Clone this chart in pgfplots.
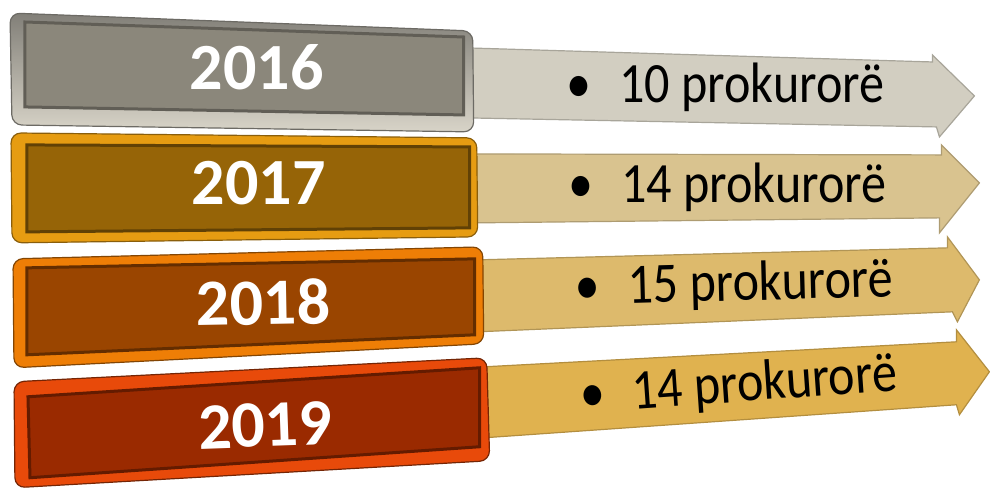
\documentclass[border=0pt]{standalone}
\usepackage{fontspec}
\setmainfont{Carlito}
\usepackage{pgfplots}
\usepackage{pgfplotstable}
\pgfplotsset{compat=1.18}

% fills
\definecolor{arrA}{HTML}{D2CEC1}
\definecolor{arrB}{HTML}{D9C38F}
\definecolor{arrC}{HTML}{DDBA6C}
\definecolor{arrD}{HTML}{E0B24F}
\definecolor{boxA}{HTML}{8B877B}
\definecolor{boxB}{HTML}{966407}
\definecolor{boxC}{HTML}{9A4500}
\definecolor{boxD}{HTML}{9A2A00}
\definecolor{rimA}{HTML}{D8D4C8}
\definecolor{rimB}{HTML}{E69C12}
\definecolor{rimC}{HTML}{EE7E06}
\definecolor{rimD}{HTML}{E84A0A}

% year labels (pixel positions, baseline)
\pgfplotstableread{
x   y   rot label
257 90  0   2016
259 205 0   2017
264 325 1   2018
266 447 2   2019
}\years

% count labels
\pgfplotstableread{
x   y   rot n
726 103 0   10
728 203 0   14
735 301 1.5 15
740 402 4   14
}\counts

\begin{document}
\begin{tikzpicture}
\begin{axis}[
  width=495pt, height=244pt, scale only axis,
  xmin=0, xmax=990, ymin=0, ymax=488,
  y dir=reverse,
  hide axis,
  clip=false,
]
\addplot[draw=none] coordinates {(0,0) (990,488)};

% arrows
\addplot[fill=arrA, draw=arrA!80!black, line width=0.6pt] coordinates {
  (470,48) (933,62) (933,55) (975,96) (940,137) (937,127) (470,118)} --cycle;
\addplot[fill=arrB, draw=arrB!80!black, line width=0.6pt] coordinates {
  (475,154) (942,155) (942,145) (980,183) (940,233) (940,218) (475,223)} --cycle;
\addplot[fill=arrC, draw=arrC!80!black, line width=0.6pt] coordinates {
  (478,260) (948,248) (948,237) (980,280) (958,322) (953,312) (478,332)} --cycle;
\addplot[fill=arrD, draw=arrD!80!black, line width=0.6pt] coordinates {
  (485,367) (957,342) (957,330) (990,372) (960,415) (957,405) (485,438)} --cycle;

% boxes: rim then face
\addplot[top color=rimA!60!black, bottom color=rimA, draw=rimA!50!black, line width=0.6pt, rounded corners=5pt] coordinates {
  (10,13) (473,31) (474,132) (12,125)} --cycle;
\addplot[fill=boxA, draw=boxA!70!black, line width=1.5pt] coordinates {
  (25,22) (464,37) (464,115) (25,107)} --cycle;

\addplot[fill=rimB, draw=rimB!60!black, line width=0.6pt, rounded corners=5pt] coordinates {
  (11,133) (477,138) (478,237) (12,243)} --cycle;
\addplot[fill=boxB, draw=boxB!65!black, line width=1.5pt] coordinates {
  (27,145) (470,147) (470,228) (27,232)} --cycle;

\addplot[fill=rimC, draw=rimC!55!black, line width=0.6pt, rounded corners=5pt] coordinates {
  (13,259) (483,247) (484,344) (14,368)} --cycle;
\addplot[fill=boxC, draw=boxC!65!black, line width=1.5pt] coordinates {
  (27,268) (475,259) (475,335) (27,355)} --cycle;

\addplot[fill=rimD, draw=rimD!50!black, line width=0.6pt, rounded corners=5pt] coordinates {
  (14,382) (487,358) (490,461) (15,488)} --cycle;
\addplot[fill=boxD, draw=boxD!65!black, line width=1.5pt] coordinates {
  (28,397) (480,368) (480,447) (30,478)} --cycle;

% year text
\addplot[draw=none, mark=none,
  point meta=explicit symbolic,
  visualization depends on={\thisrow{rot} \as \rot},
  nodes near coords={\pgfplotspointmeta},
  nodes near coords style={anchor=base, inner sep=0pt, rotate=\rot,
    text=white, font=\fontsize{33}{36}\selectfont\bfseries},
] table[x=x, y=y, meta=label] {\years};

% count text
\addplot[draw=none, mark=none,
  point meta=explicit symbolic,
  visualization depends on={\thisrow{rot} \as \rot},
  nodes near coords={•\hspace{0.55em}\pgfplotspointmeta{} prokurorë},
  nodes near coords style={anchor=base, inner sep=0pt, rotate=\rot,
    text=black, xscale=0.88, font=\fontsize{28.5}{32}\selectfont},
] table[x=x, y=y, meta=n] {\counts};
\end{axis}
\end{tikzpicture}
\end{document}
